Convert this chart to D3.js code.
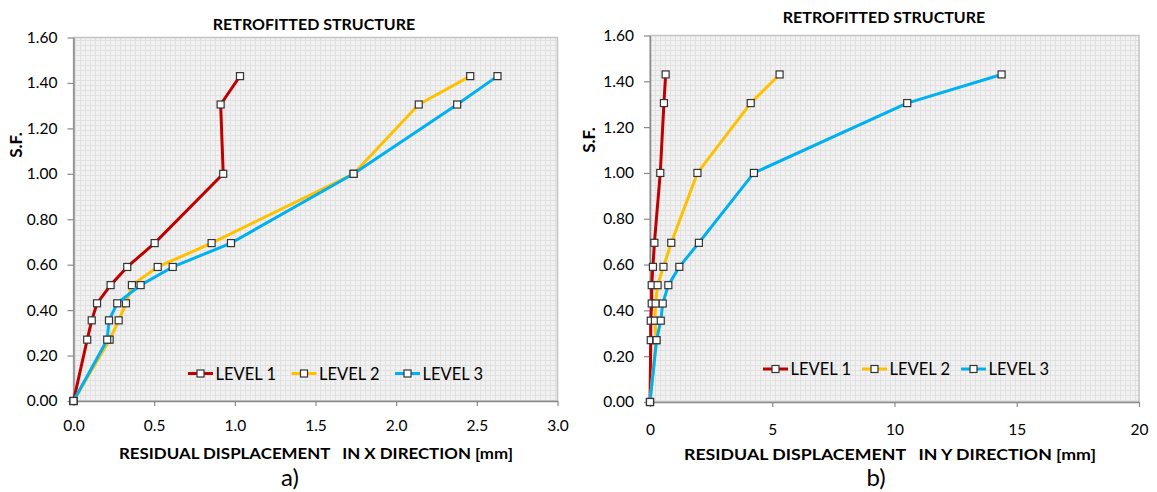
<!DOCTYPE html>
<html>
<head>
<meta charset="utf-8">
<script src="https://cdn.jsdelivr.net/npm/d3@7"></script>
<style>
  body { margin: 0; background: #fff; }
  svg { display: block; }
  text { font-family: Lato, "Open Sans", sans-serif; fill: #000; }
</style>
</head>
<body>
<div class="chart"></div>
<script>
// S.F. steps shared by every series
const safetyFactor = [0, 0.27, 0.355, 0.43, 0.51, 0.59, 0.695, 1.0, 1.305, 1.43];

// residual displacement in X direction [mm]
const level1X = [0, 0.085, 0.113, 0.146, 0.23, 0.333, 0.503, 0.928, 0.912, 1.032];
const level2X = [0, 0.224, 0.28, 0.325, 0.362, 0.522, 0.856, 1.736, 2.14, 2.459];
const level3X = [0, 0.209, 0.22, 0.271, 0.416, 0.615, 0.976, 1.736, 2.378, 2.628];

// residual displacement in Y direction [mm]
const level1Y = [0, 0.03, 0.03, 0.07, 0.07, 0.12, 0.18, 0.42, 0.57, 0.64];
const level2Y = [0, 0.25, 0.2, 0.23, 0.31, 0.55, 0.87, 1.94, 4.12, 5.3];
const level3Y = [0, 0.27, 0.44, 0.52, 0.75, 1.2, 2.0, 4.25, 10.52, 14.38];

const levels = ["LEVEL 1", "LEVEL 2", "LEVEL 3"];
const colors = ["#c00000", "#ffc000", "#00b0f0"];

const yTicks = [0, 0.2, 0.4, 0.6, 0.8, 1.0, 1.2, 1.4, 1.6];
const xTicksA = [0, 0.5, 1.0, 1.5, 2.0, 2.5, 3.0];
const xTicksB = [0, 5, 10, 15, 20];

const width = 1157, height = 492;

const svg = d3.select(".chart").append("svg")
  .attr("width", width)
  .attr("height", height);

// excel style "small grid" fill
const pat = svg.append("defs").append("pattern")
  .attr("id", "smallGrid")
  .attr("width", 5).attr("height", 5)
  .attr("patternUnits", "userSpaceOnUse");
pat.append("rect").attr("width", 5).attr("height", 5).attr("fill", "#f1f1f1");
pat.append("path").attr("d", "M0 0.5H5M0.5 0V5")
  .attr("stroke", "#e1e1e1").attr("stroke-width", 1).attr("fill", "none");

const panels = [
  {
    series: [level1X, level2X, level3X],
    left: 73.5, right: 557.5, top: 37.5, bottom: 401,
    xMax: 3, xTicks: xTicksA, fmt: d3.format(".1f"), xPad: 14,
    title: "RETROFITTED STRUCTURE", titleX: 314, titleY: 30,
    xLabel: "RESIDUAL DISPLACEMENT \u00a0 IN X DIRECTION [mm]", xLabelX: 316, xLabelY: 459, xLabelLen: 394,
    sfX: 22, sfY: 145,
    caption: "a)", capX: 290, capY: 486,
    legendY: 373.5, legendX: [200.5, 304, 407.5]
  },
  {
    series: [level1Y, level2Y, level3Y],
    left: 650, right: 1139, top: 35.5, bottom: 402,
    xMax: 20, xTicks: xTicksB, fmt: d3.format("d"), xPad: 17,
    title: "RETROFITTED STRUCTURE", titleX: 884, titleY: 23,
    xLabel: "RESIDUAL DISPLACEMENT \u00a0 IN Y DIRECTION [mm]", xLabelX: 890, xLabelY: 460, xLabelLen: 412,
    sfX: 595, sfY: 140,
    caption: "b)", capX: 876, capY: 486,
    legendY: 369, legendX: [775.5, 874.5, 973.5]
  }
];

panels.forEach(p => {
  const x = d3.scaleLinear().domain([0, p.xMax]).range([p.left, p.right]);
  const y = d3.scaleLinear().domain([0, 1.6]).range([p.bottom, p.top]);
  const g = svg.append("g");

  // plot area
  g.append("rect")
    .attr("x", p.left).attr("y", p.top)
    .attr("width", p.right - p.left).attr("height", p.bottom - p.top)
    .attr("fill", "url(#smallGrid)")
    .attr("stroke", "#c4c4c4").attr("stroke-width", 1.5);

  // axes
  const ay = g.append("g")
    .attr("transform", `translate(${p.left},0)`)
    .call(d3.axisLeft(y).tickValues(yTicks).tickFormat(d3.format(".2f")).tickSize(6).tickSizeOuter(0).tickPadding(10));
  const ax = g.append("g")
    .attr("transform", `translate(0,${p.bottom})`)
    .call(d3.axisBottom(x).tickValues(p.xTicks).tickFormat(p.fmt).tickSize(5).tickSizeOuter(0).tickPadding(p.xPad));
  [ay, ax].forEach(a => {
    a.select(".domain").attr("stroke", "#8a8a8a").attr("stroke-width", 1.5);
    a.selectAll(".tick line").attr("stroke", "#8a8a8a").attr("stroke-width", 1.2);
    a.selectAll(".tick text").attr("font-size", 15.5).attr("font-family", "Lato, sans-serif").attr("fill", "#000");
  });

  // series
  const line = d3.line().x(d => x(d[0])).y(d => y(d[1]));
  p.series.forEach((vals, i) => {
    const pts = vals.map((v, j) => [v, safetyFactor[j]]);
    g.append("path")
      .datum(pts)
      .attr("d", line)
      .attr("fill", "none")
      .attr("stroke", colors[i])
      .attr("stroke-width", 3)
      .attr("stroke-linejoin", "round");
    g.selectAll(null)
      .data(pts)
      .enter()
      .append("rect")
      .attr("x", d => x(d[0]) - 3.5)
      .attr("y", d => y(d[1]) - 3.5)
      .attr("width", 7).attr("height", 7)
      .attr("fill", "#fff")
      .attr("stroke", "#333")
      .attr("stroke-width", 1.2);
  });

  // legend
  const lg = g.append("g");
  levels.forEach((name, i) => {
    const cx = p.legendX[i];
    lg.append("line")
      .attr("x1", cx - 12.5).attr("x2", cx + 12.5)
      .attr("y1", p.legendY).attr("y2", p.legendY)
      .attr("stroke", colors[i]).attr("stroke-width", 3);
    lg.append("rect")
      .attr("x", cx - 3.5).attr("y", p.legendY - 3.5)
      .attr("width", 7).attr("height", 7)
      .attr("fill", "#fff").attr("stroke", "#333").attr("stroke-width", 1.2);
    lg.append("text")
      .attr("x", cx + 15).attr("y", p.legendY + 6)
      .attr("font-size", 16.5)
      .text(name);
  });

  // titles
  g.append("text")
    .attr("x", p.titleX).attr("y", p.titleY)
    .attr("text-anchor", "middle")
    .attr("font-size", 16).attr("font-weight", "bold")
    .text(p.title);

  g.append("text")
    .attr("x", p.xLabelX).attr("y", p.xLabelY)
    .attr("text-anchor", "middle")
    .attr("font-size", 16).attr("font-weight", "bold")
    .attr("textLength", p.xLabelLen).attr("lengthAdjust", "spacingAndGlyphs")
    .text(p.xLabel);

  g.append("text")
    .attr("transform", `translate(${p.sfX},${p.sfY}) rotate(-90)`)
    .attr("text-anchor", "middle")
    .attr("font-size", 17).attr("font-weight", "bold")
    .text("S.F.");

  g.append("text")
    .attr("x", p.capX).attr("y", p.capY)
    .attr("text-anchor", "middle")
    .attr("font-family", "'Liberation Serif', 'Times New Roman', serif")
    .attr("font-size", 24)
    .text(p.caption);
});
</script>
</body>
</html>
